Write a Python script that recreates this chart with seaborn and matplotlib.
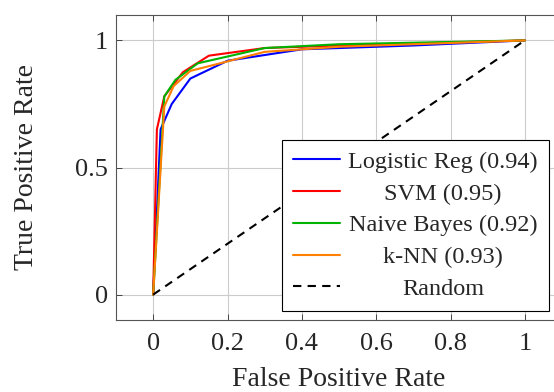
import matplotlib
matplotlib.use("Agg")
import matplotlib.pyplot as plt
import seaborn as sns

# ROC curve points
lr_fpr = [0, 0.02, 0.05, 0.10, 0.20, 0.40, 0.70, 1.0]
lr_tpr = [0, 0.65, 0.75, 0.85, 0.92, 0.965, 0.98, 1.0]
svm_fpr = [0, 0.01, 0.03, 0.08, 0.15, 0.30, 0.50, 1.0]
svm_tpr = [0, 0.65, 0.78, 0.875, 0.94, 0.97, 0.98, 1.0]
nb_fpr = [0, 0.03, 0.06, 0.12, 0.30, 0.50, 1.0]
nb_tpr = [0, 0.78, 0.845, 0.91, 0.97, 0.985, 1.0]
knn_fpr = [0, 0.03, 0.055, 0.10, 0.30, 0.50, 1.0]
knn_tpr = [0, 0.74, 0.82, 0.88, 0.955, 0.975, 1.0]
rand_x = [0, 1]
rand_y = [0, 1]

labels = ["Logistic Reg (0.94)", "SVM (0.95)", "Naive Bayes (0.92)", "k-NN (0.93)", "Random"]
colors = ["#0000ff", "#ff0000", "#00b300", "#ff8000"]
x_ticks = [0, 0.2, 0.4, 0.6, 0.8, 1]
y_ticks = [0, 0.5, 1]

sns.set_theme(style="ticks")
plt.rcParams["font.family"] = ["Liberation Serif", "DejaVu Serif"]

fig = plt.figure(figsize=(5.54, 3.92), dpi=100)
ax = fig.add_axes([116 / 554, 72 / 392, 446 / 554, 305 / 392])

curves = [(lr_fpr, lr_tpr), (svm_fpr, svm_tpr), (nb_fpr, nb_tpr), (knn_fpr, knn_tpr)]
for (xs, ys), lab, col in zip(curves, labels[:4], colors):
    sns.lineplot(x=xs, y=ys, ax=ax, color=col, linewidth=1.5, label=lab,
                 sort=False, estimator=None)
sns.lineplot(x=rand_x, y=rand_y, ax=ax, color="black", linewidth=1.5,
             label=labels[4], sort=False, estimator=None)
ax.lines[-1].set_dashes([4, 3])

ax.set_xlim(-0.1, 1.1)
ax.set_ylim(-0.1, 1.1)
ax.set_xticks(x_ticks)
ax.set_xticklabels(["0", "0.2", "0.4", "0.6", "0.8", "1"])
ax.set_yticks(y_ticks)
ax.set_yticklabels(["0", "0.5", "1"])
ax.grid(True, color="#cccccc", linewidth=0.8)
ax.set_axisbelow(True)
ax.tick_params(direction="in", length=4, width=0.7, color="#444444",
               labelsize=19, top=True, right=True)
ax.tick_params(axis="x", pad=9)
ax.tick_params(axis="y", pad=6)
for s in ax.spines.values():
    s.set_color("#555555")
    s.set_linewidth(0.8)

ax.set_xlabel("False Positive Rate", fontsize=20, labelpad=9)
ax.set_ylabel("True Positive Rate", fontsize=20, labelpad=26)

leg = ax.legend(loc="lower right", bbox_to_anchor=(0.97, 0.03), borderaxespad=0,
                fontsize=17.5, frameon=True, fancybox=False, framealpha=1,
                edgecolor="black", handlelength=1.9, handletextpad=0.35,
                labelspacing=0.4, borderpad=0.45)
leg.get_frame().set_linewidth(0.8)

# centre the legend texts like pgfplots does
fig.canvas.draw()
renderer = fig.canvas.get_renderer()
texts = leg.get_texts()
widths = [t.get_window_extent(renderer).width for t in texts]
wmax = max(widths)
for t, w in zip(texts, widths):
    t.set_x((wmax - w) / 2)

fig.savefig("out.png", dpi=100)
